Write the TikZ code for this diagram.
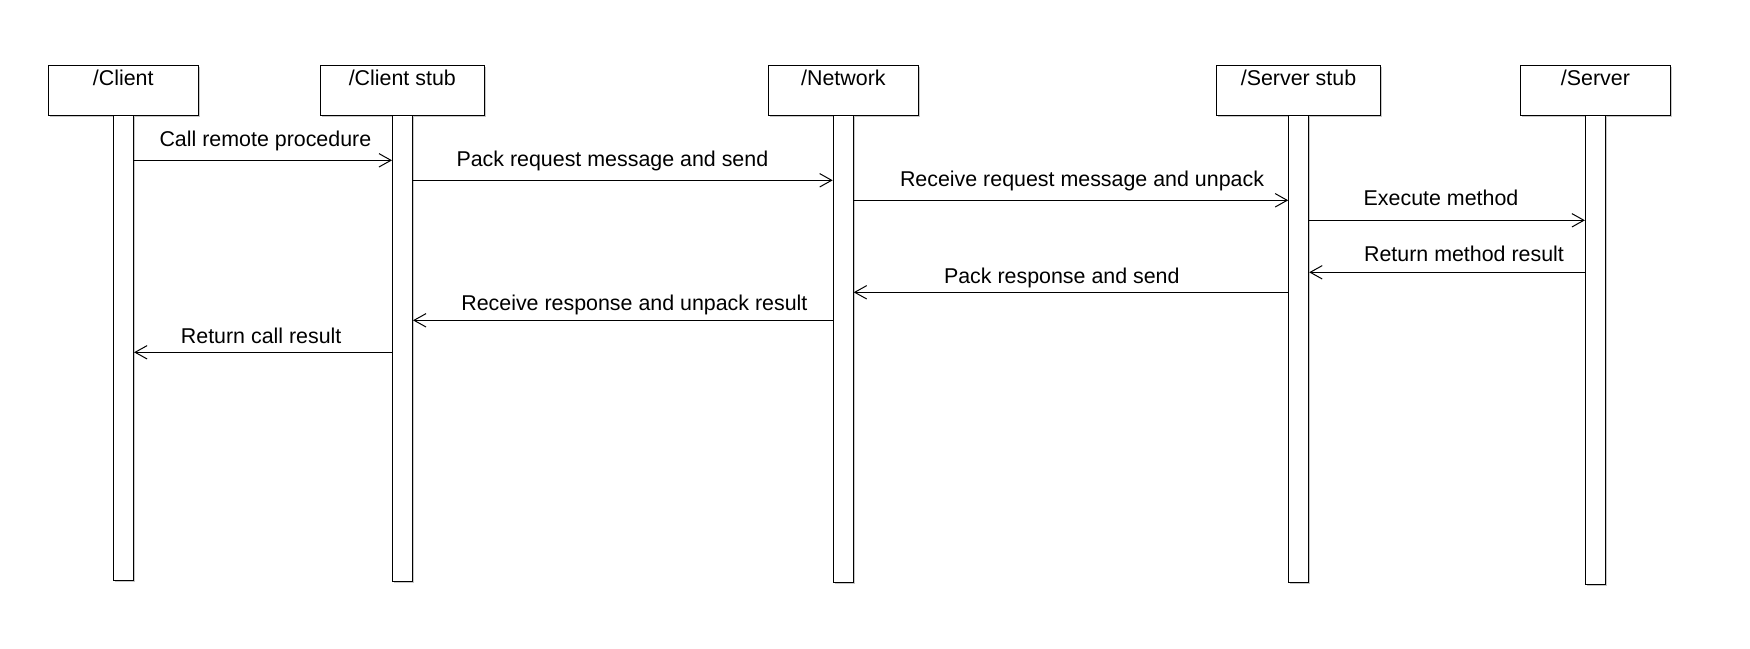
\documentclass[tikz,border=0pt]{standalone}
\usepackage{fontspec}
\setmainfont{Liberation Sans}
\usetikzlibrary{arrows.meta,shadows}
\tikzset{
  shad/.style={drop shadow={shadow xshift=0.8pt,shadow yshift=-0.8pt,fill=black!30,opacity=0.7}},
  head/.style={draw, fill=white, line width=0.5pt, inner sep=0pt, anchor=north,
    minimum height=25pt, text height=10pt, text depth=15pt, shad},
  life/.style={draw, fill=white, line width=0.5pt, inner sep=0pt, anchor=north,
    minimum width=10pt, shad},
  msg/.style={draw, line width=0.5pt, -{Straight Barb[length=6pt,width=6.7pt,line width=0.5pt]}},
  lbl/.style={anchor=base, inner sep=0pt}
}
\begin{document}
\begin{tikzpicture}[x=0.5pt,y=-0.5pt,
  every node/.style={font=\fontsize{10.7}{12.8}\selectfont}]
\useasboundingbox[fill=white] (0,0) rectangle (1750,648);
% heads
\node[head, minimum width=75pt] (h1) at (123.2,64.5) {/Client};
\node[head, minimum width=82pt] (h2) at (402.3,64.5) {/Client stub};
\node[head, minimum width=75pt] (h3) at (843.4,64.5) {/Network};
\node[head, minimum width=82pt] (h4) at (1298.5,64.5) {/Server stub};
\node[head, minimum width=75pt] (h5) at (1595.4,64.5) {/Server};
% lifelines
\node[life, minimum height=232.5pt] (L1) at (123.6,114.5) {};
\node[life, minimum height=233pt]   (L2) at (402.5,114.5) {};
\node[life, minimum height=233.5pt] (L3) at (843.2,114.5) {};
\node[life, minimum height=233.5pt] (L4) at (1298.7,114.5) {};
\node[life, minimum height=234.5pt] (L5) at (1595.4,114.5) {};
% messages
\draw[msg] (L1.east |- 0,160.3) -- (L2.west |- 0,160.3);
\draw[msg] (L2.east |- 0,180.3) -- (L3.west |- 0,180.3);
\draw[msg] (L3.east |- 0,200.3) -- (L4.west |- 0,200.3);
\draw[msg] (L4.east |- 0,220.3) -- (L5.west |- 0,220.3);
\draw[msg] (L5.west |- 0,272.3) -- (L4.east |- 0,272.3);
\draw[msg] (L4.west |- 0,292.3) -- (L3.east |- 0,292.3);
\draw[msg] (L3.west |- 0,320.3) -- (L2.east |- 0,320.3);
\draw[msg] (L2.west |- 0,352.3) -- (L1.east |- 0,352.3);
% labels
\node[lbl] (t1) at (265.4,146.7) {Call remote procedure};
\node[lbl] (t2) at (612.4,166.7) {Pack request message and send};
\node[lbl] (t3) at (1082,186.7) {Receive request message and unpack};
\node[lbl] (t4) at (1441,205.7) {Execute method};
\node[lbl] (t5) at (1464,261.7) {Return method result};
\node[lbl] (t6) at (1061.8,283.3) {Pack response and send};
\node[lbl] (t7) at (634.4,310) {Receive response and unpack result};
\node[lbl] (t8) at (261.2,343.3) {Return call result};
\end{tikzpicture}
\end{document}
